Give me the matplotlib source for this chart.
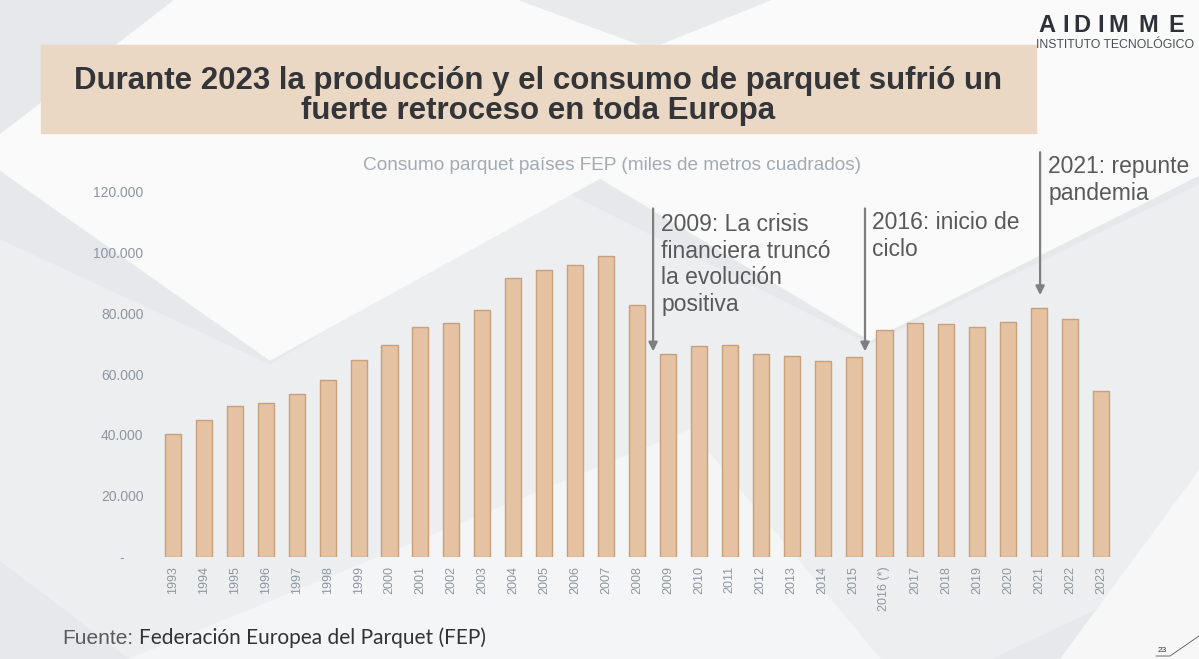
import matplotlib
matplotlib.use("Agg")
import matplotlib.pyplot as plt
from matplotlib.patches import Polygon, Rectangle
from matplotlib.ticker import FuncFormatter

plt.rcParams["font.family"] = ["Liberation Sans", "DejaVu Sans"]

# ---------- data (miles de m2) ----------
years = ["1993", "1994", "1995", "1996", "1997", "1998", "1999", "2000", "2001", "2002",
         "2003", "2004", "2005", "2006", "2007", "2008", "2009", "2010", "2011", "2012",
         "2013", "2014", "2015", "2016 (*)", "2017", "2018", "2019", "2020", "2021", "2022", "2023"]
consumo = [40200, 45000, 49600, 50600, 53600, 58200, 64700, 69600, 75500, 76700,
           81100, 91500, 94200, 95800, 98900, 82900, 66500, 69100, 69600, 66500,
           66100, 64300, 65700, 74600, 76700, 76400, 75600, 77300, 81700, 78200, 54500]
yticks = [0, 20000, 40000, 60000, 80000, 100000, 120000]

TITLE1 = "Durante 2023 la producción y el consumo de parquet sufrió un"
TITLE2 = "fuerte retroceso en toda Europa"
SUBTITLE = "Consumo parquet países FEP (miles de metros cuadrados)"

BAR = "#E5C3A2"
BAR_EDGE = "#C79F7B"
TICK = "#8D96A0"
NOTE = "#595959"

W, H = 1199, 659
fig = plt.figure(figsize=(W / 100, H / 100), dpi=100)

# ---------- slide background (pixel coords) ----------
bg = fig.add_axes([0, 0, 1, 1])
bg.set_xlim(0, W); bg.set_ylim(H, 0); bg.axis("off")
bg.add_patch(Rectangle((0, 0), W, H, color="#E6E8EB", zorder=0))
bg.add_patch(Polygon([(0, 240), (270, 365), (560, 190), (870, 345), (1199, 185),
                      (1199, 560), (990, 659), (130, 659), (0, 560)],
                     color="#EDEEF0", zorder=0))
bg.add_patch(Polygon([(175, 0), (0, 135), (0, 170), (270, 360), (600, 178), (870, 340),
                      (1199, 175), (1199, 0)], color="#FAFAFA", zorder=0))
bg.add_patch(Polygon([(520, 0), (770, 0), (650, 48)], color="#E9EAEC", zorder=0))
bg.add_patch(Polygon([(130, 659), (690, 430), (880, 659)], color="#F4F5F6", zorder=0))
bg.add_patch(Polygon([(1199, 470), (1199, 659), (1060, 659)], color="#F7F7F8", zorder=0))

# title box
bg.add_patch(Rectangle((41, 45), 995, 88, color="#EAD7C4", zorder=1))
bg.text(538, 81, TITLE1, ha="center", va="center", fontsize=22.5, fontweight="bold", color="#333538")
bg.text(538, 111, TITLE2, ha="center", va="center", fontsize=22.5, fontweight="bold", color="#333538")

# logo
for ch, x in zip("AIDIMME", [1038, 1062, 1073, 1097, 1108, 1138, 1168]):
    bg.text(x, 26, ch, ha="left", va="center", fontsize=17, fontweight="bold", color="#2E3238")
bg.text(1036, 45, "INSTITUTO TECNOLÓGICO", ha="left", va="center", fontsize=8.8, color="#4A4F55")

bg.text(612, 166, SUBTITLE, ha="center", va="center", fontsize=13.7, color="#A2AAB2")

# source
src = bg.text(62, 638, "Fuente:", ha="left", va="center", fontsize=15, color="#5A5A5A")
bg.annotate("Federación Europea del Parquet (FEP)", xy=(1, 0.5), xycoords=src,
            xytext=(4, 0), textcoords="offset points", ha="left", va="center",
            fontsize=15, color="#333333", family=["Lato", "DejaVu Sans"])

# page number
bg.text(1158, 650, "23", ha="left", va="center", fontsize=6, color="#333333")
bg.plot([1156, 1170, 1199], [656, 656, 636], color="#555555", lw=0.6)

# ---------- chart ----------
x0, x1, y0, y1 = 157.5, 1116.5, 556.6, 191.7
ax = fig.add_axes([x0 / W, (H - y0) / H, (x1 - x0) / W, (y0 - y1) / H])
ax.patch.set_alpha(0)
pos = range(len(years))
ax.bar(pos, consumo, width=0.52, color=BAR, edgecolor=BAR_EDGE, linewidth=1.0, zorder=2)
ax.set_xlim(-0.5, len(years) - 0.5)
ax.set_ylim(0, 120000)
ax.set_yticks(yticks)
ax.yaxis.set_major_formatter(FuncFormatter(
    lambda v, p: "-     " if v == 0 else f"{v:,.0f}".replace(",", ".")))
ax.set_xticks(list(pos))
ax.set_xticklabels(years, rotation=90)
ax.tick_params(axis="y", length=0, pad=10, labelsize=10, labelcolor=TICK)
ax.tick_params(axis="x", length=0, pad=7, labelsize=9, labelcolor=TICK)
for s in ax.spines.values():
    s.set_visible(False)

# annotations
arrow = dict(arrowstyle="-|>", color="#7F7F7F", lw=1.6, mutation_scale=13, shrinkA=0, shrinkB=0)
ax.annotate("", xy=(15.52, 67500), xytext=(15.52, 114500), arrowprops=arrow, annotation_clip=False)
ax.annotate("", xy=(22.37, 67500), xytext=(22.37, 114500), arrowprops=arrow, annotation_clip=False)
ax.annotate("", xy=(28.03, 86000), xytext=(28.03, 133000), arrowprops=arrow, annotation_clip=False)
ax.text(15.78, 113000, "2009: La crisis\nfinanciera truncó\nla evolución\npositiva",
        ha="left", va="top", fontsize=16.5, color=NOTE, linespacing=1.2, clip_on=False)
ax.text(22.6, 113500, "2016: inicio de\nciclo",
        ha="left", va="top", fontsize=16.5, color=NOTE, linespacing=1.2, clip_on=False)
ax.text(28.29, 132000, "2021: repunte\npandemia",
        ha="left", va="top", fontsize=16.5, color=NOTE, linespacing=1.2, clip_on=False)

fig.savefig("out.png", dpi=100)
